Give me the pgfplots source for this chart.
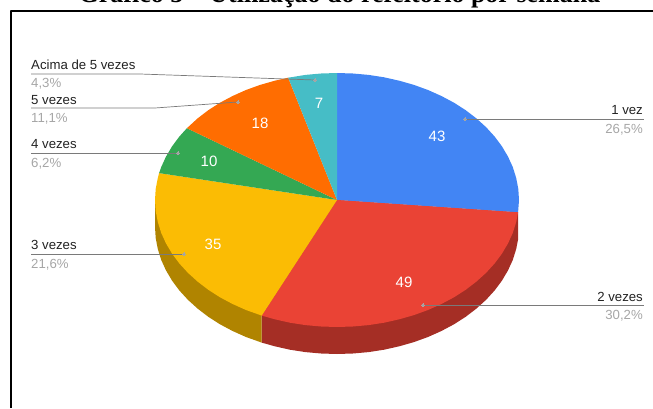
\documentclass[border=0pt]{standalone}
\usepackage{pgfplots}
\pgfplotsset{compat=1.18}
\usepackage{fontspec}
\setmainfont{Liberation Sans}
\newfontfamily\titlefont{Liberation Serif}
\definecolor{cblue}{HTML}{4285F4}
\definecolor{cred}{HTML}{EA4335}
\definecolor{cyellow}{HTML}{FBBC04}
\definecolor{cgreen}{HTML}{34A853}
\definecolor{corange}{HTML}{FF6D01}
\definecolor{cteal}{HTML}{46BDC6}
\definecolor{dred}{HTML}{A52E25}
\definecolor{dyellow}{HTML}{B08400}
\definecolor{leader}{HTML}{7A7A7A}
\definecolor{pct}{HTML}{A6A6A6}
\definecolor{lab}{HTML}{222222}
\begin{document}
\begin{tikzpicture}
\path[clip,use as bounding box] (0,0) rectangle (653pt,408pt);
\begin{axis}[
  at={(0,0)}, anchor=south west,
  scale only axis, width=653pt, height=408pt,
  xmin=0, xmax=653, ymin=0, ymax=408,
  hide axis, clip=false,
  every axis plot/.append style={line join=round},
]
% frame
\addplot[black, line width=1.6pt, forget plot] coordinates {(11,0)(11,397)(653,397)};
% side walls of the disc
\addplot[fill=dred, draw=none] coordinates {
  (337,208)(518.1,195.7)(518.1,168.7)(516.2,159)(512.8,148.1)(508,137.6)(501.9,127.3)(494.6,117.5)
  (486.1,108.2)(476.4,99.4)(465.7,91.2)(454,83.7)(441.4,77)(428,71)(413.9,65.9)(399.2,61.7)
  (384.1,58.3)(368.6,55.9)(352.9,54.5)(337,54)(321.1,54.5)(305.4,55.9)(289.9,58.3)(274.8,61.7)
  (261.7,65.4)(261.7,92.4)};
\addplot[fill=dyellow, draw=none] coordinates {
  (337,208)(261.7,92.4)(261.7,65.4)(246,71)(232.6,77)(220,83.7)(208.3,91.2)(197.6,99.4)(187.9,108.2)
  (179.4,117.5)(172.1,127.3)(166,137.6)(161.2,148.1)(157.8,159)(155.7,169.9)(155,181)(155,208)};
% top of the disc: 43, 49, 35, 10, 18, 7
\addplot[fill=cblue, draw=none] coordinates {
  (337,208)(337,335)(352.9,334.5)(368.6,333.1)(384.1,330.7)(399.2,327.3)(413.9,323.1)(428,318)(441.4,312)
  (454,305.3)(465.7,297.8)(476.4,289.6)(486.1,280.8)(494.6,271.5)(501.9,261.7)(508,251.4)(512.8,240.9)
  (516.2,230)(518.3,219.1)(519,208)(518.1,195.7)};
\addplot[fill=cred, draw=none] coordinates {
  (337,208)(518.1,195.7)(516.2,186)(512.8,175.1)(508,164.6)(501.9,154.3)(494.6,144.5)(486.1,135.2)
  (476.4,126.4)(465.7,118.2)(454,110.7)(441.4,104)(428,98)(413.9,92.9)(399.2,88.7)(384.1,85.3)
  (368.6,82.9)(352.9,81.5)(337,81)(321.1,81.5)(305.4,82.9)(289.9,85.3)(274.8,88.7)(261.7,92.4)};
\addplot[fill=cyellow, draw=none] coordinates {
  (337,208)(261.7,92.4)(246,98)(232.6,104)(220,110.7)(208.3,118.2)(197.6,126.4)(187.9,135.2)(179.4,144.5)
  (172.1,154.3)(166,164.6)(161.2,175.1)(157.8,186)(155.7,196.9)(155,208)(155.7,219.1)(157.8,230)(159.1,234.9)};
\addplot[fill=cgreen, draw=none] coordinates {
  (337,208)(159.1,234.9)(161.2,240.9)(166,251.4)(172.1,261.7)(179.4,271.5)(186.9,279.8)};
\addplot[fill=corange, draw=none] coordinates {
  (337,208)(186.9,279.8)(197.6,289.6)(208.3,297.8)(220,305.3)(232.6,312)(246,318)(260.1,323.1)(274.8,327.3)(288.2,330.3)};
\addplot[fill=cteal, draw=none] coordinates {
  (337,208)(288.2,330.3)(305.4,333.1)(321.1,334.5)(337,335)};
% leader lines
\addplot[leader, line width=0.7pt] coordinates {(31,334)(140,334)(315,328)};
\addplot[leader, line width=0.7pt] coordinates {(31,300)(155,300)(238,306)};
\addplot[leader, line width=0.7pt] coordinates {(31,255)(178,255)};
\addplot[leader, line width=0.7pt] coordinates {(31,154)(184,154)};
\addplot[leader, line width=0.7pt] coordinates {(465,289)(644,289)};
\addplot[leader, line width=0.7pt] coordinates {(423,103)(644,103)};
\addplot[only marks, draw=pct, fill=pct, mark=*, mark size=1.3pt, mark options={draw=pct, fill=pct, line width=0pt}] coordinates {
  (315,328)(238,306)(178,255)(184,154)(465,289)(423,103)};
% title, cut by the top of the page
\node[anchor=base, font=\titlefont\bfseries\fontsize{26}{26}\selectfont] at (axis cs:339.5,405.5) {Gráfico 5 – Utilização do refeitório por semana};
% value labels
\begin{scope}[every node/.style={text=white, font=\fontsize{15}{15}\selectfont}]
\node at (axis cs:437,272) {43};
\node at (axis cs:404,126) {49};
\node at (axis cs:213,164) {35};
\node at (axis cs:209,247) {10};
\node at (axis cs:260,285) {18};
\node at (axis cs:319,305) {7};
\end{scope}
% category labels and shares
\begin{scope}[every node/.style={inner sep=0pt, text=lab, font=\fontsize{13.2}{13.2}\selectfont}]
\node[anchor=base west] at (axis cs:31,338) {Acima de 5 vezes};
\node[anchor=base west, text=pct] at (axis cs:31,320) {4,3\%};
\node[anchor=base west] at (axis cs:31,304) {5 vezes};
\node[anchor=base west, text=pct] at (axis cs:31,286) {11,1\%};
\node[anchor=base west] at (axis cs:31,260) {4 vezes};
\node[anchor=base west, text=pct] at (axis cs:31,241) {6,2\%};
\node[anchor=base west] at (axis cs:31,159) {3 vezes};
\node[anchor=base west, text=pct] at (axis cs:31,140) {21,6\%};
\node[anchor=base east] at (axis cs:643,294) {1 vez};
\node[anchor=base east, text=pct] at (axis cs:643,275) {26,5\%};
\node[anchor=base east] at (axis cs:643,107) {2 vezes};
\node[anchor=base east, text=pct] at (axis cs:643,89) {30,2\%};
\end{scope}
\end{axis}
\end{tikzpicture}
\end{document}
